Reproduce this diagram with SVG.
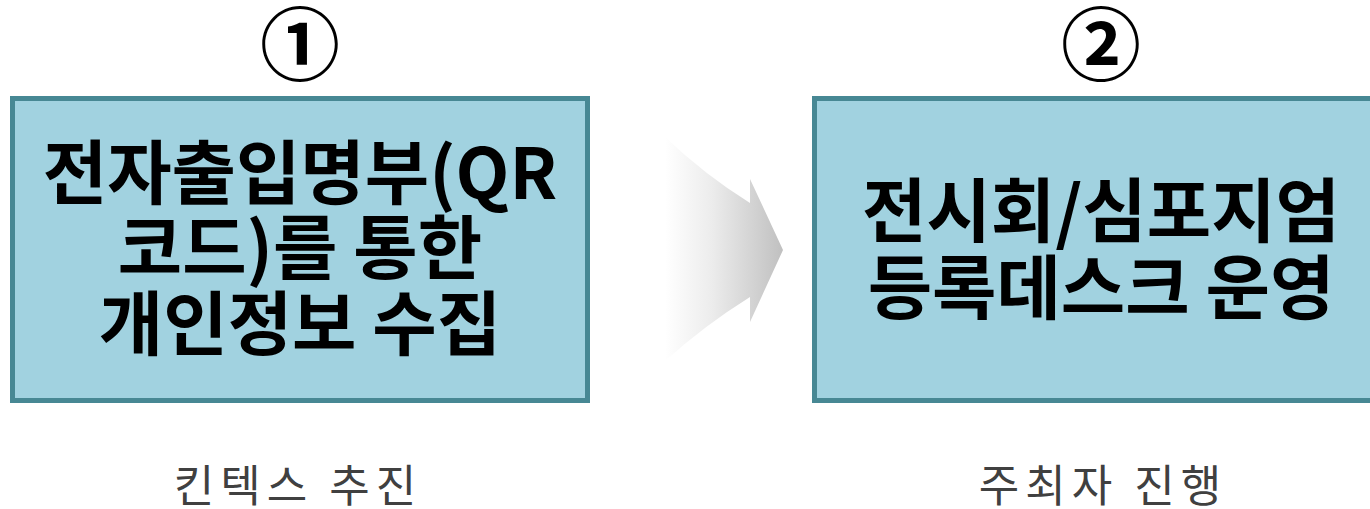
<svg xmlns="http://www.w3.org/2000/svg" width="1370" height="509" viewBox="0 0 1370 509">
<defs>
<linearGradient id="ag" x1="665" y1="0" x2="783" y2="0" gradientUnits="userSpaceOnUse">
<stop offset="0" stop-color="#ffffff"/>
<stop offset="0.4" stop-color="#ececec"/>
<stop offset="1" stop-color="#c0c0c0"/>
</linearGradient>
</defs>
<style>
.box{fill:#a1d2e0;stroke:#478894;stroke-width:5}
.main{font-family:"Noto Sans CJK KR","Noto Sans",sans-serif;font-weight:bold;font-size:70px;fill:#000;text-anchor:middle}
.num{font-family:"Noto Sans CJK KR","DejaVu Sans",sans-serif;font-weight:bold;font-size:80px;fill:#000;text-anchor:middle}
.sub{font-family:"Noto Sans CJK KR",sans-serif;font-size:44px;fill:#404040;text-anchor:middle;letter-spacing:6px}
</style>
<g id="connectors">
<path d="M665,137 Q705,175 750,203 L750,179 L783,250 L750,322 L750,297 Q705,325 665,361 Z" fill="url(#ag)"/>
</g>
<g id="node1">
<rect class="box" x="12.5" y="98.5" width="575" height="302"/>
<text class="main" x="300" y="199">전자출입명부(QR</text>
<text class="main" x="300" y="274">코드)를 통한</text>
<text class="main" x="300" y="350">개인정보 수집</text>
</g>
<g id="node2">
<rect class="box" x="814.5" y="98.5" width="575" height="302"/>
<text class="main" x="1101" y="237">전시회/심포지엄</text>
<text class="main" x="1101" y="314">등록데스크 운영</text>
</g>
<g id="label1">
<text class="num" x="300" y="74">①</text>
<text class="sub" x="298" y="502">킨텍스 추진</text>
</g>
<g id="label2">
<text class="num" x="1101" y="74">②</text>
<text class="sub" x="1103" y="502">주최자 진행</text>
</g>
</svg>
